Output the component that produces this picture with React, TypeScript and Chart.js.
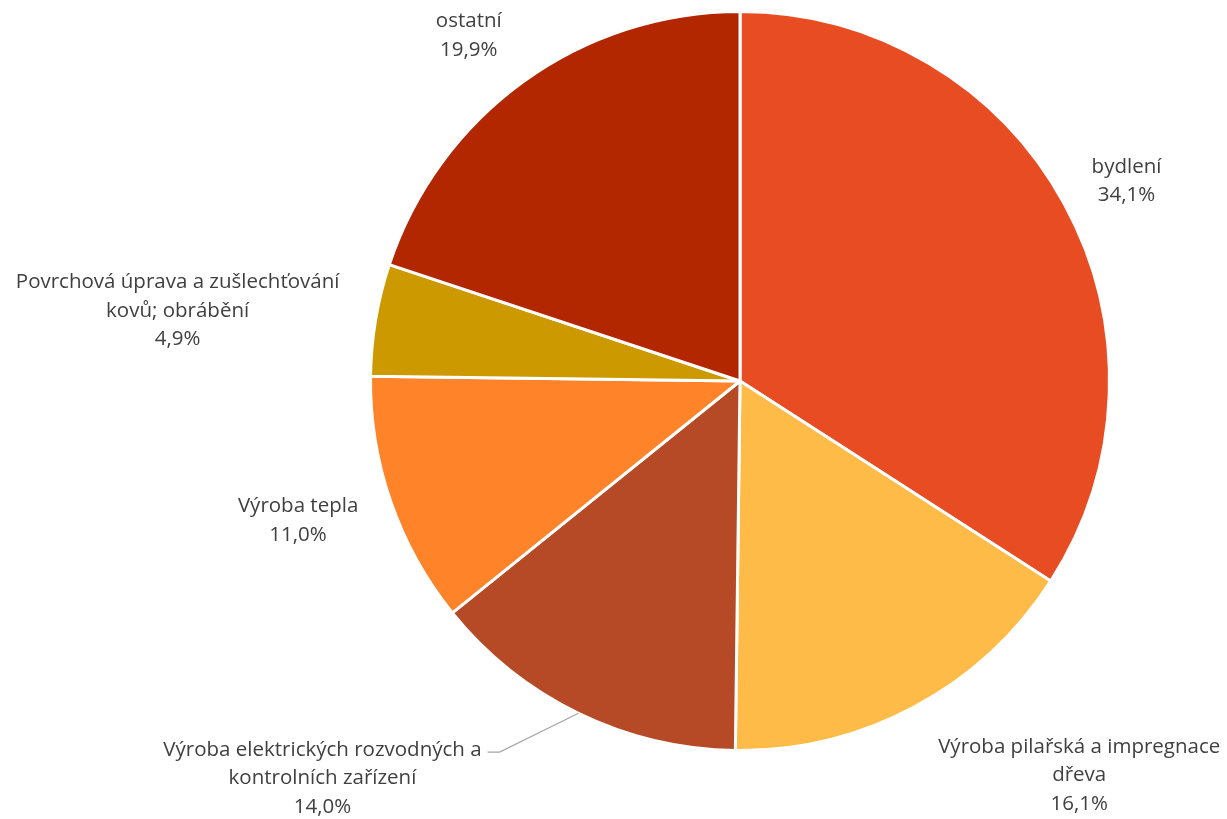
import React, { useEffect, useRef } from "react";
import { Chart, registerables } from "chart.js";

Chart.register(...registerables);

const categories = [
  "bydlení",
  "Výroba pilařská a impregnace dřeva",
  "Výroba elektrických rozvodných a kontrolních zařízení",
  "Výroba tepla",
  "Povrchová úprava a zušlechťování kovů; obrábění",
  "ostatní",
];
const labelLines: string[][] = [
  ["bydlení"],
  ["Výroba pilařská a impregnace", "dřeva"],
  ["Výroba elektrických rozvodných a", "kontrolních zařízení"],
  ["Výroba tepla"],
  ["Povrchová úprava a zušlechťování", "kovů; obrábění"],
  ["ostatní"],
];
const values = [34.1, 16.1, 14.0, 11.0, 4.9, 19.9];
const percentLabels = ["34,1%", "16,1%", "14,0%", "11,0%", "4,9%", "19,9%"];
const colors = ["#E84C22", "#FFBB47", "#B64A26", "#FF8429", "#CC9A00", "#B22600"];
// label block centre offsets, in units of the pie radius
const labelOffsets = [
  [1.046, -0.541],
  [0.918, 1.068],
  [-1.13, 1.076],
  [-1.196, 0.378],
  [-1.522, -0.19],
  [-0.734, -0.935],
];
const leaderIndex = 2;

const FONT = "20.5px 'Open Sans', Lato, sans-serif";
const LINE_H = 28.5;

const labelPlugin = {
  id: "outerLabels",
  afterDatasetsDraw(chart: any) {
    const ctx = chart.ctx;
    const meta = chart.getDatasetMeta(0);
    ctx.save();
    ctx.font = FONT;
    ctx.fillStyle = "#404040";
    ctx.textAlign = "center";
    ctx.textBaseline = "middle";
    meta.data.forEach((arc: any, i: number) => {
      const { x, y, outerRadius, startAngle, endAngle } = arc.getProps(
        ["x", "y", "outerRadius", "startAngle", "endAngle"],
        true
      );
      const lines = [...labelLines[i], percentLabels[i]];
      const cx = x + labelOffsets[i][0] * outerRadius;
      const cy = y + labelOffsets[i][1] * outerRadius;
      const top = cy - ((lines.length - 1) * LINE_H) / 2;
      lines.forEach((t, k) => ctx.fillText(t, cx, top + k * LINE_H));
      if (i === leaderIndex) {
        const mid = (startAngle + endAngle) / 2;
        const sx = x + Math.cos(mid) * outerRadius;
        const sy = y + Math.sin(mid) * outerRadius;
        const w = ctx.measureText(lines[0]).width;
        const ex = cx + w / 2 + 6;
        const ey = top + 2;
        ctx.strokeStyle = "#A6A6A6";
        ctx.lineWidth = 1.2;
        ctx.beginPath();
        ctx.moveTo(sx, sy);
        ctx.lineTo(ex + 12, ey);
        ctx.lineTo(ex, ey);
        ctx.stroke();
      }
    });
    ctx.restore();
  },
};

export default function App() {
  const ref = useRef<HTMLCanvasElement>(null);
  useEffect(() => {
    if (!ref.current) return;
    const chart = new Chart(ref.current, {
      type: "pie",
      data: {
        labels: categories,
        datasets: [
          {
            data: values,
            backgroundColor: colors,
            borderColor: "#FFFFFF",
            borderWidth: 3,
          },
        ],
      },
      options: {
        responsive: false,
        animation: false,
        layout: { padding: { left: 369, right: 116, top: 10, bottom: 67 } },
        plugins: {
          legend: { display: false },
          tooltip: { enabled: false },
        },
      },
      plugins: [labelPlugin],
    });
    return () => chart.destroy();
  }, []);
  return (
    <div style={{ position: "absolute", left: 0, top: 0, width: 1227, height: 819, background: "#fff" }}>
      <canvas ref={ref} width={1227} height={819} />
    </div>
  );
}
